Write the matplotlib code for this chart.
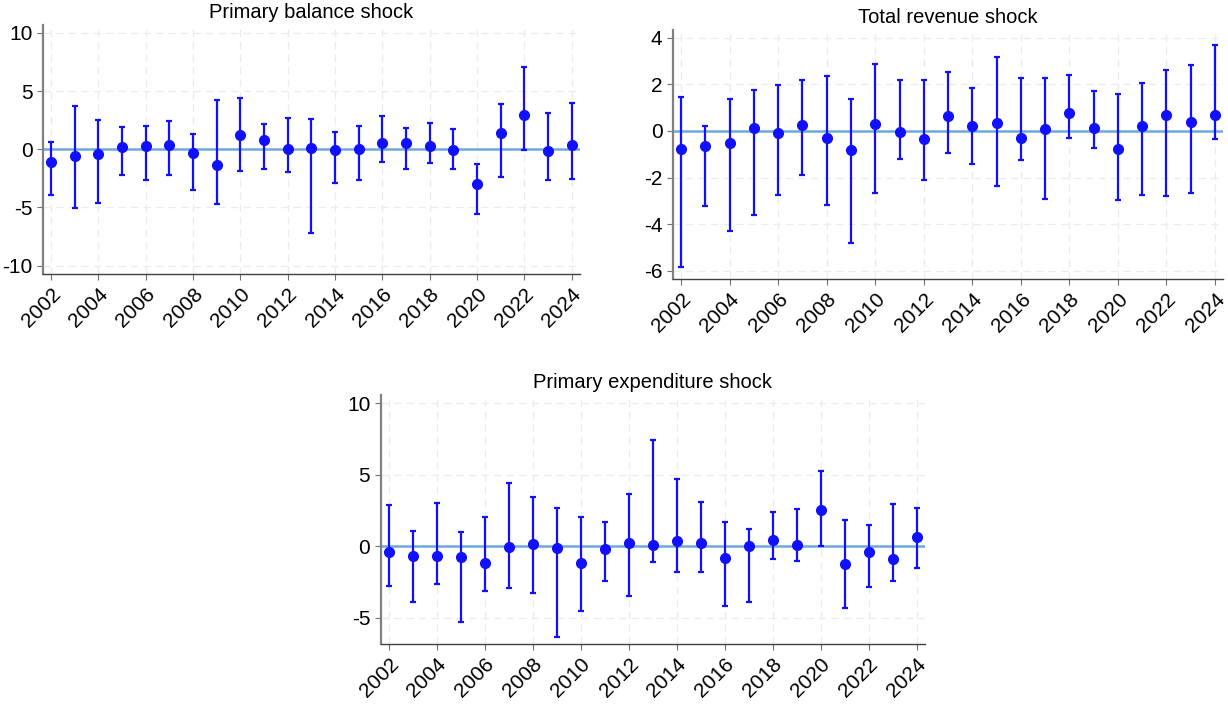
import matplotlib.pyplot as plt
import numpy as np

plt.rcParams['font.family'] = ['Liberation Sans', 'DejaVu Sans']
plt.rcParams['axes.unicode_minus'] = False

years = list(range(2002, 2025))

# Primary balance shock: point estimate, lower and upper bound
pb_est = [-1.09, -0.57, -0.40, 0.17, 0.32, 0.37, -0.34, -1.35, 1.24, 0.80, 0.00,
          0.11, -0.03, 0.00, 0.57, 0.52, 0.29, -0.03, -2.96, 1.38, 2.93, -0.11, 0.34]
pb_lo = [-3.97, -5.03, -4.60, -2.24, -2.67, -2.21, -3.53, -4.71, -1.87, -1.67, -1.95,
         -7.18, -2.93, -2.64, -1.12, -1.72, -1.21, -1.72, -5.60, -2.36, -0.05, -2.67, -2.59]
pb_hi = [0.63, 3.68, 2.53, 1.87, 1.98, 2.41, 1.35, 4.25, 4.42, 2.21, 2.67,
         2.64, 1.52, 1.98, 2.82, 1.81, 2.27, 1.70, -1.24, 3.91, 7.04, 3.10, 3.97]

# Total revenue shock
tr_est = [-0.77, -0.67, -0.54, 0.14, -0.09, 0.27, -0.31, -0.80, 0.30, -0.07, -0.33,
          0.64, 0.21, 0.34, -0.30, 0.07, 0.77, 0.13, -0.76, 0.19, 0.69, 0.40, 0.66]
tr_lo = [-5.84, -3.20, -4.29, -3.60, -2.76, -1.89, -3.18, -4.82, -2.68, -1.22, -2.12,
         -0.94, -1.44, -2.37, -1.27, -2.90, -0.31, -0.74, -2.96, -2.75, -2.78, -2.66, -0.36]
tr_hi = [1.44, 0.22, 1.37, 1.76, 1.96, 2.20, 2.37, 1.36, 2.88, 2.16, 2.20,
         2.53, 1.83, 3.16, 2.26, 2.26, 2.40, 1.72, 1.56, 2.03, 2.59, 2.82, 3.66]

# Primary expenditure shock
pe_est = [-0.40, -0.65, -0.70, -0.77, -1.19, -0.02, 0.14, -0.14, -1.19, -0.21, 0.26,
          0.12, 0.40, 0.26, -0.84, 0.02, 0.42, 0.12, 2.53, -1.26, -0.40, -0.91, 0.63]
pe_lo = [-2.77, -3.86, -2.63, -5.30, -3.12, -2.90, -3.23, -6.30, -4.49, -2.44, -3.44,
         -1.07, -1.81, -1.77, -4.19, -3.88, -0.86, -1.00, 0.00, -4.28, -2.86, -2.44, -1.49]
pe_hi = [2.90, 1.07, 3.00, 0.98, 2.02, 4.44, 3.44, 2.65, 2.02, 1.70, 3.65,
         7.44, 4.70, 3.07, 1.70, 1.21, 2.42, 2.58, 5.28, 1.81, 1.51, 2.98, 2.70]

fig = plt.figure(figsize=(12.28, 7.04), dpi=100)

panels = [
    ('Primary balance shock', pb_est, pb_lo, pb_hi, [0.035, 0.611, 0.437, 0.354],
     (-10.7, 10.7), [-10, -5, 0, 5, 10]),
    ('Total revenue shock', tr_est, tr_lo, tr_hi, [0.548, 0.604, 0.448, 0.354],
     (-6.34, 4.34), [-6, -4, -2, 0, 2, 4]),
    ('Primary expenditure shock', pe_est, pe_lo, pe_hi, [0.310, 0.085, 0.443, 0.354],
     (-6.83, 10.58), [-5, 0, 5, 10]),
]

for title, est, lo, hi, pos, ylim, yticks in panels:
    ax = fig.add_axes(pos)
    est = np.array(est)
    err = [est - np.array(lo), np.array(hi) - est]
    ax.grid(True, color='#ececec', linestyle=(0, (6, 4)), linewidth=0.9)
    ax.set_axisbelow(True)
    ax.axhline(0, color='#6fa8dc', linewidth=1.8, zorder=2)
    ax.errorbar(years, est, yerr=err, fmt='o', color='#1010ff', ecolor='#1010ff',
                markersize=7, elinewidth=1.6, capsize=2.5, capthick=1.6, zorder=3)
    ax.set_title(title, fontsize=14.5, pad=5)
    ax.set_xlim(2001.66, 2024.34)
    ax.set_ylim(*ylim)
    ax.set_yticks(yticks)
    ax.set_xticks(years[::2])
    ax.set_xticklabels([str(y) for y in years[::2]], rotation=45, ha='right',
                       rotation_mode='anchor')
    ax.tick_params(labelsize=15, color='#707070', length=4)
    for s in ['top', 'right']:
        ax.spines[s].set_visible(False)
    ax.spines['left'].set_color('#808080')
    ax.spines['left'].set_linewidth(1.6)
    ax.spines['bottom'].set_color('#404040')
    ax.spines['bottom'].set_linewidth(1.0)

fig.savefig('out.png', dpi=100)
